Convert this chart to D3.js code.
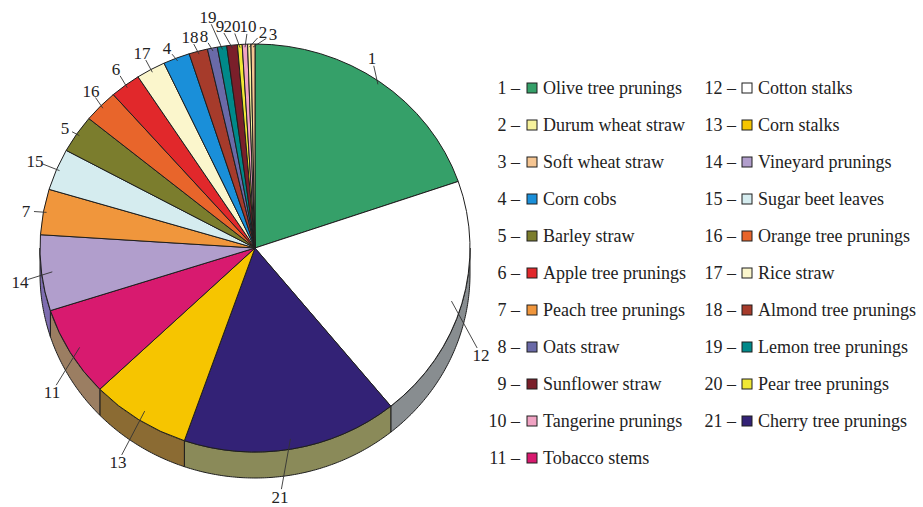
<!DOCTYPE html>
<html><head><meta charset="utf-8">
<script src="https://cdn.jsdelivr.net/npm/d3@7"></script>
<style>body{margin:0;background:#fff}</style>
</head><body><svg id="c" width="923" height="507"></svg>
<script>
// ---- data (legend order 1..21) ----
const categories = ["Olive tree prunings","Durum wheat straw","Soft wheat straw","Corn cobs","Barley straw",
  "Apple tree prunings","Peach tree prunings","Oats straw","Sunflower straw","Tangerine prunings",
  "Tobacco stems","Cotton stalks","Corn stalks","Vineyard prunings","Sugar beet leaves",
  "Orange tree prunings","Rice straw","Almond tree prunings","Lemon tree prunings","Pear tree prunings",
  "Cherry tree prunings"];
const values = [19.7,0.25,0.3,2.0,3.0,2.3,3.6,0.75,0.8,0.4,7.2,19.4,7.5,6.0,3.3,2.6,2.2,1.4,0.7,0.35,16.2];
const pieOrder = [1,12,21,13,11,14,7,15,5,16,6,17,4,18,8,19,9,20,10,2,3];
// ---- styles ----
const colors = ["#35a069","#f6f29c","#f5c592","#1a8fd9","#7b7d2d","#e1282b","#f0963c","#6a6aa8","#7a1f2a","#f0a3c3",
  "#d81a6f","#ffffff","#f6c500","#b19ecc","#d5ecef","#e8652b","#fbf6cc","#a63b2b","#00898a","#f0e834","#332276"];
const sideColors = {12:"#888d90",21:"#8a8a59",13:"#8b6b33",11:"#9b7e62",14:"#7e6db0"};
// label layout (text centre) per category id
const labelLayout = {1:[372,58],12:[481,355],21:[280,497],13:[118,462],11:[52,392],14:[20,282],7:[26,211],
  15:[35,161],5:[65,128],16:[91,91],6:[116,69],17:[142,53],4:[167,48],18:[190,37],8:[204,36],19:[208,17],
  9:[220,26],20:[232,26],10:[248,26],2:[263,32],3:[273,34]};

const svg = d3.select("#c");
const cx = 255, cy = 248, rx = 215, ry = 204, depth = 26;
const stroke = "#1e1e1e";

const items = pieOrder.map(id => ({id, name: categories[id-1], value: values[id-1], color: colors[id-1]}));
const arcs = d3.pie().sort(null).value(d => d.value)(items);

const pt = (a, k=1, dy=0) => [cx + rx*k*Math.sin(a), cy - ry*k*Math.cos(a) + dy];

// sides
const line = d3.line();
const gSide = svg.append("g");
arcs.forEach(a => {
  const s = Math.max(a.startAngle, Math.PI/2), e = Math.min(a.endAngle, 3*Math.PI/2);
  if (s >= e) return;
  const n = Math.max(2, Math.ceil((e-s)/0.01));
  const top = d3.range(n+1).map(i => pt(s + (e-s)*i/n));
  const bot = top.slice().reverse().map(p => [p[0], p[1]+depth]);
  const sc = sideColors[a.data.id] || d3.color(a.data.color).darker(1).formatHex();
  gSide.append("path").attr("d", line(top.concat(bot)) + "Z")
    .attr("fill", sc).attr("stroke", stroke).attr("stroke-width", 1).attr("stroke-linejoin","round");
});

// top faces
const R = 100;
const arcGen = d3.arc().innerRadius(0).outerRadius(R);
svg.append("g").attr("transform", `translate(${cx},${cy}) scale(${rx/R},${ry/R})`)
  .selectAll("path").data(arcs).join("path")
  .attr("d", arcGen).attr("fill", d => d.data.color)
  .attr("stroke", stroke).attr("stroke-width", 1).attr("vector-effect","non-scaling-stroke")
  .attr("stroke-linejoin","round");

// labels with leader lines
const gLab = svg.append("g");
arcs.forEach(a => {
  const mid = (a.startAngle + a.endAngle)/2;
  const [lx, ly] = labelLayout[a.data.id];
  const bottom = mid > Math.PI/2 && mid < 3*Math.PI/2;
  const st = pt(mid, bottom ? 0.95 : 0.985);
  const dx = st[0]-lx, dy = st[1]-ly, L = Math.hypot(dx, dy);
  const off = 8;
  gLab.append("line").attr("x1", st[0]).attr("y1", st[1])
    .attr("x2", lx + dx/L*off).attr("y2", ly + dy/L*off)
    .attr("stroke", "#333").attr("stroke-width", 0.9);
  gLab.append("text").attr("x", lx).attr("y", ly).attr("dy","0.35em")
    .attr("text-anchor","middle").attr("font-family","Liberation Serif, serif")
    .attr("font-size", 17).attr("fill","#222").text(a.data.id);
});

// legend
const gLeg = svg.append("g").attr("font-family","Liberation Serif, serif").attr("font-size",18).attr("fill","#222");
categories.forEach((name, i) => {
  const col = i < 11 ? 0 : 1, row = col ? i-11 : i;
  const xEnd = col ? 736 : 520, xSq = col ? 742 : 527, xTxt = col ? 758 : 543;
  const y = 88 + 37*row;
  gLeg.append("text").attr("x", xEnd).attr("y", y).attr("dy","0.35em").attr("text-anchor","end").text((i+1) + " \u2013");
  gLeg.append("rect").attr("x", xSq).attr("y", y-5).attr("width",10).attr("height",10)
    .attr("fill", colors[i]).attr("stroke", stroke).attr("stroke-width",1);
  gLeg.append("text").attr("x", xTxt).attr("y", y).attr("dy","0.35em").text(name);
});
</script></body></html>
